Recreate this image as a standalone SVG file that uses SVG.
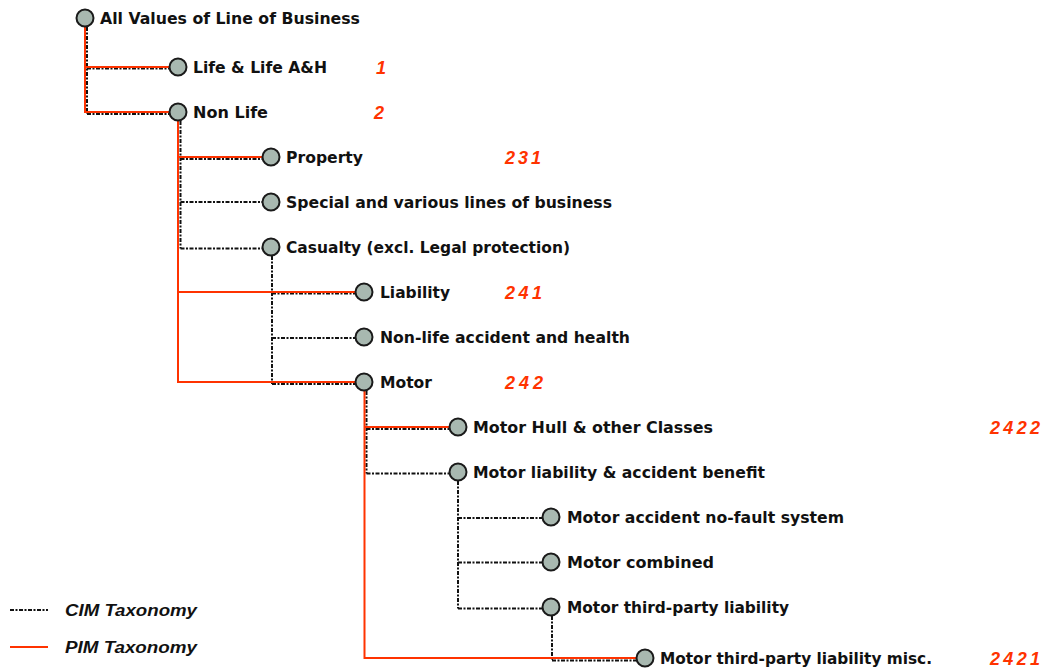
<svg xmlns="http://www.w3.org/2000/svg" width="1042" height="670" viewBox="0 0 1042 670">
<style>
.pim{stroke:#ff3300;stroke-width:2;fill:none}
.cim{stroke:#111;stroke-width:2;fill:none;stroke-dasharray:4 1.5 2 1.5}
.nd circle{fill:#a8b8b0;stroke:#1a1a1a;stroke-width:2}
.lbl{font-family:"DejaVu Sans",Verdana,sans-serif;font-weight:bold;font-size:15.5px;fill:#111}
.num{font-family:"Liberation Sans",Arial,sans-serif;font-weight:bold;font-style:italic;font-size:18px;fill:#ff3300}
.leg{font-family:"Liberation Sans",Arial,sans-serif;font-weight:bold;font-style:italic;font-size:16px;fill:#111}
</style>
<rect width="1042" height="670" fill="#fff"/>
<g id="connectors">
<path class="cim" d="M87,27 V114 M87,68.5 H170 M87,114 H170"/>
<path class="cim" d="M180.5,121 V248.5 M180.5,159 H263 M180.5,202 H263 M180.5,248.5 H263"/>
<path class="cim" d="M272,256 V384 M272,293.5 H356 M272,338 H356 M272,384 H356"/>
<path class="cim" d="M366.5,391 V473.5 M366.5,429 H450 M366.5,473.5 H450"/>
<path class="cim" d="M458,481 V608.5 M458,518 H543 M458,562.5 H543 M458,608.5 H543"/>
<path class="cim" d="M552,616 V660.5 M552,660.5 H637"/>
<path class="pim" d="M85,27 V112 H170 M85,67 H170"/>
<path class="pim" d="M178,121 V382 H356 M178,157 H263 M178,292 H356"/>
<path class="pim" d="M364.5,391 V658 H637 M364.5,427 H450"/>
</g>
<g id="n-all" class="nd"><circle cx="85" cy="18" r="8.5"/><text class="lbl" x="100" y="23.5" textLength="260" lengthAdjust="spacingAndGlyphs">All Values of Line of Business</text></g>
<g id="n-life" class="nd"><circle cx="178" cy="67" r="8.5"/><text class="lbl" x="193" y="72.5" textLength="134" lengthAdjust="spacingAndGlyphs">Life &amp; Life A&amp;H</text><text class="num" x="376" y="73.5">1</text></g>
<g id="n-nonlife" class="nd"><circle cx="178" cy="112" r="8.5"/><text class="lbl" x="193" y="117.5" textLength="75" lengthAdjust="spacingAndGlyphs">Non Life</text><text class="num" x="374" y="118.5">2</text></g>
<g id="n-property" class="nd"><circle cx="271" cy="157" r="8.5"/><text class="lbl" x="286" y="162.5" textLength="77" lengthAdjust="spacingAndGlyphs">Property</text><text class="num" x="505" y="163.5" textLength="36" lengthAdjust="spacing">231</text></g>
<g id="n-special" class="nd"><circle cx="271" cy="202" r="8.5"/><text class="lbl" x="286" y="207.5" textLength="326" lengthAdjust="spacingAndGlyphs">Special and various lines of business</text></g>
<g id="n-casualty" class="nd"><circle cx="271" cy="247" r="8.5"/><text class="lbl" x="286" y="252.5" textLength="284" lengthAdjust="spacingAndGlyphs">Casualty (excl. Legal protection)</text></g>
<g id="n-liability" class="nd"><circle cx="364" cy="292" r="8.5"/><text class="lbl" x="380" y="297.5" textLength="70" lengthAdjust="spacingAndGlyphs">Liability</text><text class="num" x="505" y="298.5" textLength="37" lengthAdjust="spacing">241</text></g>
<g id="n-nonlifeacc" class="nd"><circle cx="364" cy="337" r="8.5"/><text class="lbl" x="380" y="342.5" textLength="250" lengthAdjust="spacingAndGlyphs">Non-life accident and health</text></g>
<g id="n-motor" class="nd"><circle cx="364" cy="382" r="8.5"/><text class="lbl" x="380" y="387.5" textLength="52" lengthAdjust="spacingAndGlyphs">Motor</text><text class="num" x="505" y="388.5" textLength="38" lengthAdjust="spacing">242</text></g>
<g id="n-motorhull" class="nd"><circle cx="458" cy="427" r="8.5"/><text class="lbl" x="473" y="432.5" textLength="240" lengthAdjust="spacingAndGlyphs">Motor Hull &amp; other Classes</text><text class="num" x="990" y="433.5" textLength="50" lengthAdjust="spacing">2422</text></g>
<g id="n-motorliab" class="nd"><circle cx="458" cy="472" r="8.5"/><text class="lbl" x="473" y="477.5" textLength="292" lengthAdjust="spacingAndGlyphs">Motor liability &amp; accident benefit</text></g>
<g id="n-nofault" class="nd"><circle cx="551" cy="517" r="8.5"/><text class="lbl" x="567" y="522.5" textLength="277" lengthAdjust="spacingAndGlyphs">Motor accident no-fault system</text></g>
<g id="n-combined" class="nd"><circle cx="551" cy="562" r="8.5"/><text class="lbl" x="567" y="567.5" textLength="147" lengthAdjust="spacingAndGlyphs">Motor combined</text></g>
<g id="n-tpl" class="nd"><circle cx="551" cy="607" r="8.5"/><text class="lbl" x="567" y="612.5" textLength="222" lengthAdjust="spacingAndGlyphs">Motor third-party liability</text></g>
<g id="n-tplmisc" class="nd"><circle cx="645" cy="658" r="8.5"/><text class="lbl" x="660" y="663.5" textLength="272" lengthAdjust="spacingAndGlyphs">Motor third-party liability misc.</text><text class="num" x="990" y="664.5" textLength="50" lengthAdjust="spacing">2421</text></g>
<g id="legend">
<line class="cim" x1="10" y1="610" x2="48" y2="610"/>
<text class="leg" x="65" y="616" textLength="132" lengthAdjust="spacingAndGlyphs">CIM Taxonomy</text>
<line class="pim" x1="10" y1="647" x2="48" y2="647"/>
<text class="leg" x="65" y="653" textLength="132" lengthAdjust="spacingAndGlyphs">PIM Taxonomy</text>
</g>
</svg>
